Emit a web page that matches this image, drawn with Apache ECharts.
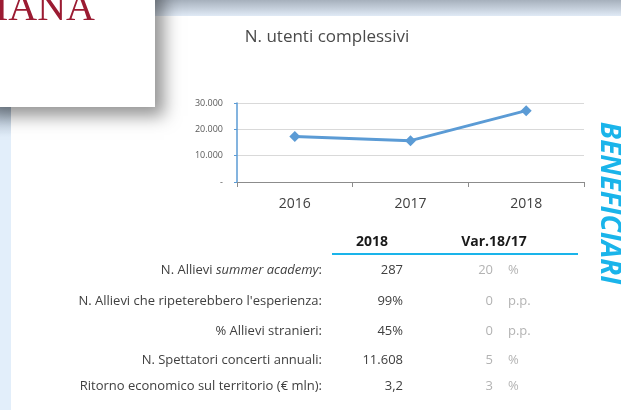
<!DOCTYPE html>
<html>
<head>
<meta charset="utf-8">
<script src="https://cdn.jsdelivr.net/npm/echarts@6/dist/echarts.min.js"></script>
<style>
html, body { margin: 0; padding: 0; background: #fff; }
#main { width: 621px; height: 410px; }
</style>
</head>
<body>
<div id="main"></div>
<script>
// dati grafico
const years = ['2016', '2017', '2018']
const utenti = [17300, 15700, 27100]
const yTicks = [0, 10000, 20000, 30000]

// dati tabella
const rowLabels = [
  'N. Allievi {i|summer academy}:',
  "N. Allievi che ripeterebbero l'esperienza:",
  '% Allievi stranieri:',
  'N. Spettatori concerti annuali:',
  'Ritorno economico sul territorio (€ mln):'
]
const values2018 = ['287', '99%', '45%', '11.608', '3,2']
const varValues = ['20', '0', '0', '5', '3']
const varUnits = ['%', 'p.p.', 'p.p.', '%', '%']
const headers = ['2018', 'Var.18/17']

// layout
const ROW_Y = [270, 301, 331, 360, 386]
const FONT = '"Open Sans", "Noto Sans", sans-serif'

function fmt (v) {
  if (v === 0) return '-'
  return String(v).replace(/\B(?=(\d{3})+(?!\d))/g, '.')
}

const chart = echarts.init(document.getElementById('main'), null, { renderer: 'canvas' })

const graphic = [
  // striscia sinistra
  {
    type: 'rect', z: 1, silent: true,
    shape: { x: 0, y: 100, width: 11, height: 310 },
    style: {
      fill: new echarts.graphic.LinearGradient(0, 0, 0, 1, [
        { offset: 0, color: '#9fb0c2' },
        { offset: 0.12, color: '#e2eefa' },
        { offset: 1, color: '#e2eefa' }
      ])
    }
  },
  // barra in alto
  {
    type: 'rect', z: 1, silent: true,
    shape: { x: 150, y: 0, width: 471, height: 16 },
    style: {
      fill: new echarts.graphic.LinearGradient(0, 0, 0, 1, [
        { offset: 0, color: '#a6b0bc' },
        { offset: 1, color: '#e0eaf6' }
      ])
    }
  },
  // riquadro logo con ombra
  {
    type: 'rect', z: 2, silent: true,
    shape: { x: -20, y: -20, width: 175, height: 127 },
    style: {
      fill: '#fff',
      shadowBlur: 16,
      shadowColor: 'rgba(0,0,0,0.42)',
      shadowOffsetX: 9,
      shadowOffsetY: 9
    }
  },
  {
    type: 'text', z: 3, silent: true,
    x: -5, y: 9,
    style: {
      text: 'IANA',
      font: '40px "Liberation Serif", "DejaVu Serif", serif',
      fill: '#9b1b32',
      align: 'left',
      verticalAlign: 'middle'
    }
  },
  // titolo
  {
    type: 'text', z: 3, silent: true,
    x: 327, y: 37,
    style: {
      text: 'N. utenti complessivi',
      font: '17px ' + FONT,
      fill: '#4a4a4a',
      align: 'center',
      verticalAlign: 'middle'
    }
  },
  // BENEFICIARI verticale
  {
    type: 'text', z: 3, silent: true,
    x: 609, y: 203, rotation: -Math.PI / 2,
    style: {
      text: 'BENEFICIARI',
      font: 'italic bold 28px ' + FONT,
      fill: '#1ab4ea',
      align: 'center',
      verticalAlign: 'middle'
    }
  },
  // intestazione tabella
  {
    type: 'text', z: 3, silent: true,
    x: 372, y: 242,
    style: { text: headers[0], font: 'bold 14px ' + FONT, fill: '#1a1a1a', align: 'center', verticalAlign: 'middle' }
  },
  {
    type: 'text', z: 3, silent: true,
    x: 494, y: 242,
    style: { text: headers[1], font: 'bold 14px ' + FONT, fill: '#1a1a1a', align: 'center', verticalAlign: 'middle' }
  },
  {
    type: 'line', z: 3, silent: true,
    shape: { x1: 332, y1: 254, x2: 578, y2: 254 },
    style: { stroke: '#1ab4ea', lineWidth: 2 }
  }
]

rowLabels.forEach((label, i) => {
  const y = ROW_Y[i]
  graphic.push({
    type: 'text', z: 3, silent: true, x: 322, y: y,
    style: {
      text: label,
      font: '13px ' + FONT,
      fill: '#404040',
      align: 'right',
      verticalAlign: 'middle',
      rich: { i: { fontStyle: 'italic', fontSize: 13, fontFamily: FONT, fill: '#404040' } }
    }
  })
  graphic.push({
    type: 'text', z: 3, silent: true, x: 403, y: y,
    style: { text: values2018[i], font: '13px ' + FONT, fill: '#404040', align: 'right', verticalAlign: 'middle' }
  })
  graphic.push({
    type: 'text', z: 3, silent: true, x: 493, y: y,
    style: { text: varValues[i], font: '13px ' + FONT, fill: '#b3b3b3', align: 'right', verticalAlign: 'middle' }
  })
  graphic.push({
    type: 'text', z: 3, silent: true, x: 508, y: y,
    style: { text: varUnits[i], font: '13px ' + FONT, fill: '#b3b3b3', align: 'left', verticalAlign: 'middle' }
  })
})

const option = {
  animation: false,
  backgroundColor: '#fff',
  grid: { left: 237, right: 37, top: 103, bottom: 228 },
  xAxis: {
    type: 'category',
    data: years,
    boundaryGap: true,
    axisLine: { lineStyle: { color: '#8c8c8c', width: 1 } },
    axisTick: { show: true, length: 5, inside: false, lineStyle: { color: '#8c8c8c' } },
    axisLabel: { color: '#404040', fontSize: 14, fontFamily: FONT, margin: 15 }
  },
  yAxis: {
    type: 'value',
    min: yTicks[0],
    max: yTicks[yTicks.length - 1],
    interval: yTicks[1] - yTicks[0],
    axisLine: { show: true, lineStyle: { color: '#5b9bd5', width: 1.5 } },
    axisTick: { show: true, length: 3, lineStyle: { color: '#5b9bd5' } },
    axisLabel: { color: '#595959', fontSize: 9, fontFamily: FONT, margin: 14, formatter: fmt },
    splitLine: { lineStyle: { color: '#d9d9d9', width: 1 } }
  },
  series: [{
    type: 'line',
    data: utenti,
    symbol: 'diamond',
    symbolSize: 11,
    lineStyle: { color: '#5b9bd5', width: 3 },
    itemStyle: { color: '#5b9bd5' },
    z: 5
  }],
  graphic: graphic
}

chart.setOption(option)
</script>
</body>
</html>
